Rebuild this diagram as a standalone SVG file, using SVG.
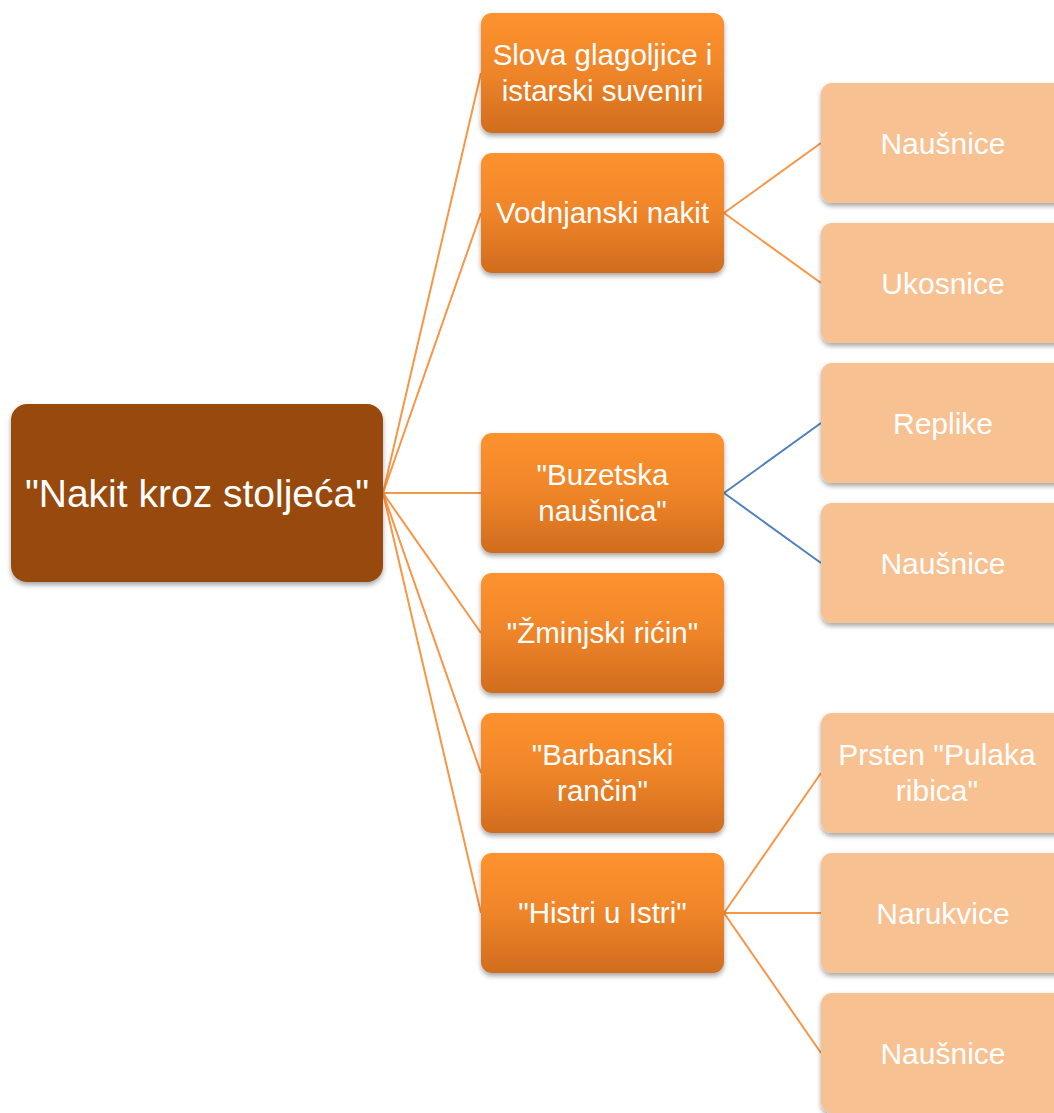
<svg xmlns="http://www.w3.org/2000/svg" width="1054" height="1113" viewBox="0 0 1054 1113">
<defs>
<linearGradient id="gMid" x1="0" y1="0" x2="0" y2="1">
<stop offset="0" stop-color="#fd922e"/>
<stop offset="0.5" stop-color="#ef8529"/>
<stop offset="1" stop-color="#d06c1e"/>
</linearGradient>
<filter id="sh" x="-10%" y="-10%" width="120%" height="130%">
<feDropShadow dx="0" dy="3" stdDeviation="2.5" flood-color="#000" flood-opacity="0.35"/>
</filter>
<style>
.root{fill:#984807;filter:url(#sh)}
.mid{fill:url(#gMid);filter:url(#sh)}
.leaf{fill:#f8c192;filter:url(#sh)}
text{font-family:"Liberation Sans",Arial,sans-serif;fill:#fff;text-anchor:middle}
.t1{font-size:39px}
.t2{font-size:29.5px}
.t3{font-size:30px}
.co{stroke:#f79646;stroke-width:2;fill:none}
.cb{stroke:#4f81bd;stroke-width:2;fill:none}
</style>
</defs>
<rect width="1054" height="1113" fill="#fff"/>
<g id="connectors">
<path class="co" d="M383 493L481 73M383 493L481 213M383 493L481 493M383 493L481 633M383 493L481 773M383 493L481 913"/>
<path class="co" d="M724 213L821 143M724 213L821 283"/>
<path class="cb" d="M724 493L821 423M724 493L821 563"/>
<path class="co" d="M724 913L821 773M724 913L821 913M724 913L821 1053"/>
</g>
<g id="root"><rect class="root" x="11" y="404" width="372" height="178" rx="16"/><text class="t1" x="197" y="507">"Nakit kroz stoljeća"</text></g>
<g id="n1"><rect class="mid" x="481" y="13" width="243" height="120" rx="11"/><text class="t2" x="602.5" y="65">Slova glagoljice i</text><text class="t2" x="602.5" y="101">istarski suveniri</text></g>
<g id="n2"><rect class="mid" x="481" y="153" width="243" height="120" rx="11"/><text class="t2" x="602.5" y="223">Vodnjanski nakit</text></g>
<g id="n3"><rect class="mid" x="481" y="433" width="243" height="120" rx="11"/><text class="t2" x="602.5" y="485">"Buzetska</text><text class="t2" x="602.5" y="521">naušnica"</text></g>
<g id="n4"><rect class="mid" x="481" y="573" width="243" height="120" rx="11"/><text class="t2" x="602.5" y="643">"Žminjski rićin"</text></g>
<g id="n5"><rect class="mid" x="481" y="713" width="243" height="120" rx="11"/><text class="t2" x="602.5" y="765">"Barbanski</text><text class="t2" x="602.5" y="801">rančin"</text></g>
<g id="n6"><rect class="mid" x="481" y="853" width="243" height="120" rx="11"/><text class="t2" x="602.5" y="923">"Histri u Istri"</text></g>
<g id="l1"><rect class="leaf" x="821" y="83" width="250" height="120" rx="11"/><text class="t3" x="943" y="154">Naušnice</text></g>
<g id="l2"><rect class="leaf" x="821" y="223" width="250" height="120" rx="11"/><text class="t3" x="943" y="294">Ukosnice</text></g>
<g id="l3"><rect class="leaf" x="821" y="363" width="250" height="120" rx="11"/><text class="t3" x="943" y="434">Replike</text></g>
<g id="l4"><rect class="leaf" x="821" y="503" width="250" height="120" rx="11"/><text class="t3" x="943" y="574">Naušnice</text></g>
<g id="l5"><rect class="leaf" x="821" y="713" width="250" height="120" rx="11"/><text class="t3" x="937" y="765">Prsten "Pulaka</text><text class="t3" x="937" y="801">ribica"</text></g>
<g id="l6"><rect class="leaf" x="821" y="853" width="250" height="120" rx="11"/><text class="t3" x="943" y="924">Narukvice</text></g>
<g id="l7"><rect class="leaf" x="821" y="993" width="250" height="120" rx="11"/><text class="t3" x="943" y="1064">Naušnice</text></g>
</svg>
